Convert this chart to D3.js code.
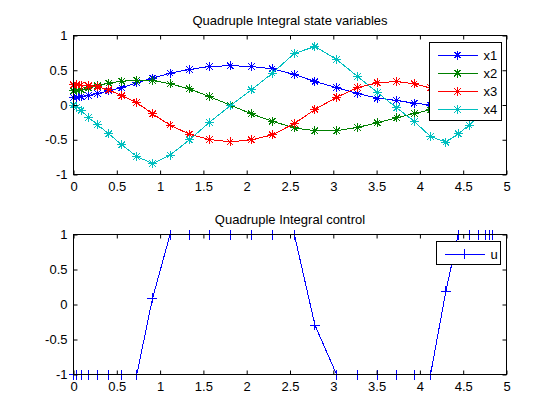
<!DOCTYPE html>
<html>
<head>
<meta charset="utf-8">
<title>Quadruple Integral</title>
<script src="https://d3js.org/d3.v7.min.js"></script>
<style>
    body { margin: 0; background: #fff; }
    svg { font-family: "Liberation Sans", Arial, sans-serif; }
    .axis { font-size: 13px; font-family: "Liberation Sans", Arial, sans-serif; }
    .axis line { stroke: black; }
    .axis text { fill: black; }
    .frame { fill: none; stroke: black; stroke-width: 1px; }
    path.series { fill: none; stroke-width: 1px; shape-rendering: crispEdges; }
    path.marker { fill: none; stroke-width: 1px; shape-rendering: crispEdges; }
    .title { font-size: 13px; text-anchor: middle; fill: black; }
    .legend text { font-size: 13px; fill: black; }
    .legend path, .legend line { shape-rendering: crispEdges; }
</style>
</head>
<body>
<script>
// time nodes
let t = [0, 0.038, 0.088, 0.173, 0.277, 0.408, 0.558, 0.731, 0.912, 1.115,
         1.338, 1.569, 1.808, 2.054, 2.296, 2.55, 2.788, 3.038, 3.281, 3.508,
         3.731, 3.935, 4.123, 4.3, 4.442, 4.569, 4.673, 4.758, 4.808, 4.838];

let x1 = [0.105, 0.11, 0.12, 0.135, 0.165, 0.205, 0.25, 0.318, 0.386, 0.458,
          0.511, 0.554, 0.565, 0.555, 0.52, 0.439, 0.338, 0.25, 0.165, 0.10,
          0.065, 0.026, 0.0, -0.02, -0.03, -0.035, -0.04, -0.04, -0.04, -0.04];
let x2 = [0.204, 0.21, 0.22, 0.245, 0.276, 0.314, 0.343, 0.353, 0.353, 0.305,
          0.233, 0.12, 0.0, -0.127, -0.233, -0.33, -0.37, -0.37, -0.322, -0.256,
          -0.185, -0.122, -0.07, -0.03, 0.0, 0.02, 0.03, 0.035, 0.035, 0.035];
let x3 = [0.29, 0.29, 0.285, 0.275, 0.26, 0.218, 0.132, 0.036, -0.127, -0.29,
          -0.42, -0.497, -0.53, -0.50, -0.43, -0.266, -0.065, 0.112, 0.25, 0.319,
          0.338, 0.305, 0.247, 0.16, 0.09, 0.03, -0.01, -0.04, -0.05, -0.06];
let x4 = [0, -0.03, -0.08, -0.18, -0.285, -0.415, -0.573, -0.741, -0.842, -0.722,
          -0.501, -0.25, -0.012, 0.218, 0.458, 0.741, 0.842, 0.655, 0.41, 0.18,
          -0.04, -0.237, -0.453, -0.535, -0.415, -0.29, -0.17, -0.07, -0.01, 0.02];
let u = [-1, -1, -1, -1, -1, -1, -1, -1, 0.086, 1,
         1, 1, 1, 1, 1, 1, -0.295, -1, -1, -1,
         -1, -1, -1, 0.19, 1, 1, 1, 1, 1, 1];

let stateNames = ["x1", "x2", "x3", "x4"];
let stateColors = ["#0000ff", "#008000", "#ff0000", "#00bfbf"];
let xTicks = [0, 0.5, 1, 1.5, 2, 2.5, 3, 3.5, 4, 4.5, 5];
let yTicks = [-1, -0.5, 0, 0.5, 1];

let width = 560;
let height = 420;

let svg = d3.select("body").append("svg")
    .attr("width", width)
    .attr("height", height);

let x_scale = d3.scaleLinear().domain([0, 5]).range([73.5, 506.5]);
let top_scale = d3.scaleLinear().domain([-1, 1]).range([174.5, 35.5]);
let bot_scale = d3.scaleLinear().domain([-1, 1]).range([374.5, 234.5]);

// matlab style markers
let star = "M-4.5,0L4.5,0M0,-4.5L0,4.5M-3.2,-3.2L3.2,3.2M-3.2,3.2L3.2,-3.2";
let plus = "M-5,0L5,0M0,-5L0,5";

function drawAxes(y_scale, title) {
    let y0 = y_scale.range()[0], y1 = y_scale.range()[1];
    let x0 = x_scale.range()[0], x1r = x_scale.range()[1];

    svg.append("g").attr("class", "axis")
        .attr("transform", "translate(0," + y0 + ")")
        .call(d3.axisBottom(x_scale).tickValues(xTicks).tickSizeInner(-4)
            .tickSizeOuter(0).tickPadding(7).tickFormat(d => String(d)))
        .call(g => g.select(".domain").remove());
    svg.append("g").attr("class", "axis")
        .attr("transform", "translate(0," + y1 + ")")
        .call(d3.axisTop(x_scale).tickValues(xTicks).tickSizeInner(-4)
            .tickSizeOuter(0).tickFormat(""))
        .call(g => g.select(".domain").remove());
    svg.append("g").attr("class", "axis")
        .attr("transform", "translate(" + x0 + ",0)")
        .call(d3.axisLeft(y_scale).tickValues(yTicks).tickSizeInner(-4)
            .tickSizeOuter(0).tickPadding(6).tickFormat(d => String(d)))
        .call(g => g.select(".domain").remove());
    svg.append("g").attr("class", "axis")
        .attr("transform", "translate(" + x1r + ",0)")
        .call(d3.axisRight(y_scale).tickValues(yTicks).tickSizeInner(-4)
            .tickSizeOuter(0).tickFormat(""))
        .call(g => g.select(".domain").remove());

    svg.append("rect").attr("class", "frame")
        .attr("x", x0).attr("y", y1)
        .attr("width", x1r - x0).attr("height", y0 - y1);

    svg.append("text").attr("class", "title")
        .attr("x", (x0 + x1r) / 2)
        .attr("y", y1 - 10.5)
        .text(title);
}

function drawSeries(values, y_scale, color, marker) {
    let pts = t.map((d, i) => [d, values[i]]);
    let line = d3.line()
        .x(d => x_scale(d[0]))
        .y(d => y_scale(d[1]));
    svg.append("path").attr("class", "series")
        .attr("d", line(pts))
        .attr("stroke", color);
    svg.append("g").selectAll("path")
        .data(pts)
        .join("path")
        .attr("class", "marker")
        .attr("d", marker)
        .attr("stroke", color)
        .attr("transform", d => "translate(" + x_scale(d[0]) + "," + y_scale(d[1]) + ")");
}

function drawLegend(names, colors, marker, x, y, w, h, rowH) {
    let g = svg.append("g").attr("class", "legend");
    g.append("rect")
        .attr("x", x).attr("y", y).attr("width", w).attr("height", h)
        .attr("fill", "white").attr("stroke", "black");
    names.forEach((n, i) => {
        let cy = y + 12.5 + i * rowH;
        g.append("line")
            .attr("x1", x + 8).attr("x2", x + 48)
            .attr("y1", cy).attr("y2", cy)
            .attr("stroke", colors[i]);
        g.append("path")
            .attr("d", marker)
            .attr("fill", "none")
            .attr("stroke", colors[i])
            .attr("transform", "translate(" + (x + 28) + "," + cy + ")");
        g.append("text")
            .attr("x", x + 54).attr("y", cy + 4.5)
            .text(n);
    });
}

// top: states
let states = [x1, x2, x3, x4];
states.forEach((s, i) => drawSeries(s, top_scale, stateColors[i], star));
drawAxes(top_scale, "Quadruple Integral state variables");
drawLegend(stateNames, stateColors, star, 429.5, 42.5, 72, 78, 18.2);

// bottom: control
drawSeries(u, bot_scale, "#0000ff", plus);
drawAxes(bot_scale, "Quadruple Integral control");
drawLegend(["u"], ["#0000ff"], plus, 436.5, 241.5, 64, 23, 18);
</script>
</body>
</html>
